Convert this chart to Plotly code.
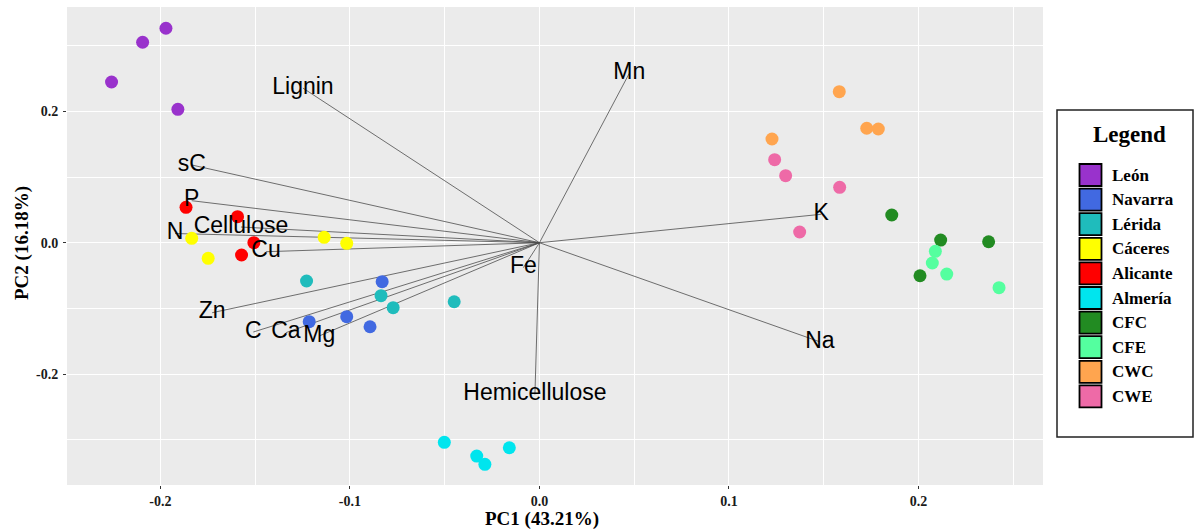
import plotly.graph_objects as go

# Sample scores on the first two principal components, per origin / compost type
groups = ["León", "Navarra", "Lérida", "Cáceres", "Alicante", "Almería", "CFC", "CFE", "CWC", "CWE"]
group_colors = ["#9932CC", "#4169E1", "#1FBCBC", "#FFFF00", "#FF0000", "#00E5EE",
                "#228B22", "#54FF9F", "#FFA54F", "#EE6AA7"]

pc1_scores = [
    [-0.1971, -0.2094, -0.2258, -0.1908],
    [-0.0830, -0.1215, -0.1017, -0.0894],
    [-0.1229, -0.0836, -0.0772, -0.0450],
    [-0.1835, -0.1136, -0.1017, -0.1748],
    [-0.1865, -0.1593, -0.1507, -0.1572],
    [-0.0502, -0.0331, -0.0288, -0.0159],
    [0.1859, 0.2117, 0.2370, 0.2008],
    [0.2089, 0.2073, 0.2149, 0.2425],
    [0.1582, 0.1727, 0.1788, 0.1227],
    [0.1241, 0.1299, 0.1584, 0.1373],
]
pc2_scores = [
    [0.3266, 0.3053, 0.2448, 0.2032],
    [-0.0594, -0.1203, -0.1127, -0.1280],
    [-0.0583, -0.0807, -0.0990, -0.0899],
    [0.0067, 0.0082, -0.0009, -0.0238],
    [0.0539, 0.0396, 0.0000, -0.0187],
    [-0.3040, -0.3249, -0.3375, -0.3123],
    [0.0422, 0.0041, 0.0015, -0.0503],
    [-0.0131, -0.0309, -0.0477, -0.0685],
    [0.2300, 0.1743, 0.1732, 0.1580],
    [0.1264, 0.1021, 0.0844, 0.0163],
]

# Variable loadings (biplot vectors)
variables = ["Lignin", "Mn", "sC", "P", "Cellulose", "N", "Cu", "Zn", "C", "Ca", "Mg",
             "Fe", "Hemicellulose", "K", "Na"]
load_pc1 = [-0.1248, 0.0474, -0.1835, -0.1835, -0.1575, -0.1923, -0.1443, -0.1727,
            -0.1510, -0.1338, -0.1162, -0.0085, -0.0024, 0.1487, 0.1480]
load_pc2 = [0.2355, 0.2580, 0.1184, 0.0640, 0.0239, 0.0140, -0.0137, -0.1066,
            -0.1360, -0.1370, -0.1420, -0.0380, -0.2310, 0.0433, -0.1510]

tick_vals_x = [-0.2, -0.1, 0.0, 0.1, 0.2]
tick_text_x = ["-0.2", "-0.1", "0.0", "0.1", "0.2"]
tick_vals_y = [-0.2, 0.0, 0.2]
tick_text_y = ["-0.2", "0.0", "0.2"]

x_title = "PC1 (43.21%)"
y_title = "PC2 (16.18%)"

fig = go.Figure()

# Loading vectors from the origin
seg_x, seg_y = [], []
for lx, ly in zip(load_pc1, load_pc2):
    seg_x += [0, lx, None]
    seg_y += [0, ly, None]
fig.add_trace(go.Scatter(x=seg_x, y=seg_y, mode="lines",
                         line=dict(color="#4d4d4d", width=0.8),
                         hoverinfo="skip", showlegend=False))

# Sample points
for name, col, xs, ys in zip(groups, group_colors, pc1_scores, pc2_scores):
    fig.add_trace(go.Scatter(x=xs, y=ys, mode="markers", name=name,
                             marker=dict(color=col, size=13, line=dict(width=0)),
                             showlegend=False))

# Variable names at the vector tips
fig.add_trace(go.Scatter(x=load_pc1, y=load_pc2, mode="text", text=variables,
                         textposition="middle center",
                         textfont=dict(family="Liberation Sans, Arial", size=23, color="black"),
                         hoverinfo="skip", showlegend=False))

W, H = 1196, 529
ml, mr, mt, mb = 67, 153, 7, 44
pw, ph = W - ml - mr, H - mt - mb


def px(xpix):
    return (xpix - ml) / pw


def py(ypix):
    return (H - mb - ypix) / ph


serif = "Liberation Serif, Times New Roman, serif"

# Legend drawn as a framed box of coloured squares
shapes = [dict(type="rect", xref="paper", yref="paper",
               x0=px(1057), x1=px(1193), y0=py(437), y1=py(110),
               line=dict(color="#222222", width=1.5), fillcolor="white")]
annotations = [dict(text="<b>Legend</b>", xref="paper", yref="paper",
                    x=px(1129), y=py(134), showarrow=False,
                    xanchor="center", yanchor="middle",
                    font=dict(family=serif, size=23, color="black"))]
for i, (name, col) in enumerate(zip(groups, group_colors)):
    cy = 175 + 24.6 * i
    shapes.append(dict(type="rect", xref="paper", yref="paper",
                       x0=px(1079.5), x1=px(1101.5), y0=py(cy + 11), y1=py(cy - 11),
                       line=dict(color="black", width=1.8), fillcolor=col))
    annotations.append(dict(text="<b>%s</b>" % name, xref="paper", yref="paper",
                            x=px(1110), y=py(cy), showarrow=False,
                            xanchor="left", yanchor="middle",
                            font=dict(family=serif, size=17, color="black")))

# Axis titles
annotations.append(dict(text="<b>%s</b>" % x_title, xref="paper", yref="paper",
                        x=px(542), y=py(519), showarrow=False,
                        xanchor="center", yanchor="middle",
                        font=dict(family=serif, size=19, color="black")))
annotations.append(dict(text="<b>%s</b>" % y_title, xref="paper", yref="paper",
                        x=px(22), y=py(243), showarrow=False, textangle=-90,
                        xanchor="center", yanchor="middle",
                        font=dict(family=serif, size=19, color="black")))

axis_common = dict(showgrid=True, gridcolor="white", gridwidth=1.3, zeroline=False,
                   ticks="outside", ticklen=3, tickwidth=1, tickcolor="#333333",
                   showline=False,
                   tickfont=dict(family=serif, size=14, color="#1a1a1a"))

fig.update_layout(
    width=W, height=H,
    margin=dict(l=ml, r=mr, t=mt, b=mb),
    paper_bgcolor="white", plot_bgcolor="#EBEBEB",
    xaxis=dict(range=[-0.2493, 0.2657], tickvals=tick_vals_x, ticktext=[f"<b>{t}</b>" for t in tick_text_x],
               ticklabelstandoff=0,
               minor=dict(tick0=0.05, dtick=0.1, showgrid=True, gridcolor="white", gridwidth=0.6, ticks=""),
               **axis_common),
    yaxis=dict(range=[-0.369, 0.359], tickvals=tick_vals_y, ticktext=[f"<b>{t}</b>" for t in tick_text_y],
               ticklabelstandoff=2,
               minor=dict(tick0=0.1, dtick=0.2, showgrid=True, gridcolor="white", gridwidth=0.6, ticks=""),
               **axis_common),
    shapes=shapes,
    annotations=annotations,
    showlegend=False,
)

fig.write_html("out.html")
